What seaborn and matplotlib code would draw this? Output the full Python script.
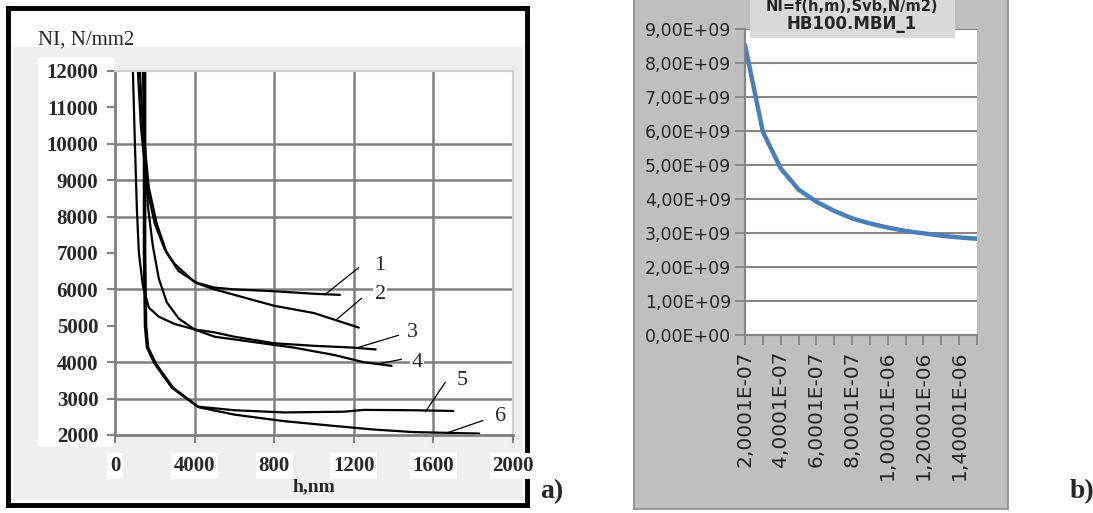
import seaborn as sns
import matplotlib.pyplot as plt
from matplotlib.patches import Rectangle

# ---- panel a) NI (N/mm2) against indentation depth h (nm), curves 1..6 ----
c1_h = [115, 130, 160, 200, 250, 300, 400, 500, 600, 800, 1000, 1130]
c1_ni = [12000, 10500, 8800, 7800, 7100, 6700, 6200, 6050, 6000, 5950, 5880, 5850]
c2_h = [125, 140, 170, 210, 260, 320, 420, 500, 600, 800, 1000, 1225]
c2_ni = [12000, 10500, 8800, 7800, 7000, 6500, 6150, 6000, 5850, 5550, 5350, 4950]
c3_h = [90, 100, 110, 120, 140, 170, 220, 300, 400, 500, 600, 800, 1000, 1200, 1310]
c3_ni = [12000, 10000, 8200, 7000, 6100, 5500, 5250, 5050, 4900, 4820, 4700, 4520, 4450, 4400, 4350]
c4_h = [140, 150, 165, 190, 220, 260, 320, 400, 500, 700, 900, 1100, 1250, 1390]
c4_ni = [12000, 10000, 8300, 7200, 6300, 5650, 5200, 4900, 4700, 4550, 4400, 4200, 4000, 3900]
c5_h = [145, 145, 150, 160, 200, 285, 415, 600, 850, 1150, 1250, 1500, 1700]
c5_ni = [12000, 7000, 5000, 4400, 3950, 3300, 2780, 2680, 2620, 2640, 2690, 2680, 2660]
c6_h = [152, 152, 157, 167, 207, 292, 422, 600, 850, 1100, 1300, 1500, 1830]
c6_ni = [12000, 7000, 5000, 4400, 3950, 3300, 2760, 2560, 2380, 2250, 2150, 2080, 2040]

a_yticks = list(range(2000, 12001, 1000))
a_grid_y = [3000, 4000, 6000, 8000, 9000, 10000]
a_xticks = [0, 400, 800, 1200, 1600, 2000]
a_xlabels = ["0", "4000", "800", "1200", "1600", "2000"]

curve_ids = ["1", "2", "3", "4", "5", "6"]
# leader lines (start on curve -> end near number) and number positions
lead_h0 = [1060, 1115, 1225, 1310, 1560, 1675]
lead_ni0 = [5880, 5180, 4410, 3940, 2640, 2070]
lead_h1 = [1225, 1240, 1425, 1440, 1660, 1850]
lead_ni1 = [6600, 5760, 4740, 4080, 3450, 2400]
num_h = [1300, 1305, 1465, 1490, 1715, 1910]
num_ni = [6650, 5850, 4820, 3980, 3500, 2520]

# ---- panel b) NI = f(h), Excel style ----
b_h = ["2,0001E-07", "3,0001E-07", "4,0001E-07", "5,0001E-07", "6,0001E-07",
       "7,0001E-07", "8,0001E-07", "9,0001E-07", "1,00001E-06", "1,10001E-06",
       "1,20001E-06", "1,30001E-06", "1,40001E-06", "1,50001E-06"]
b_ni = [8.53e9, 5.98e9, 4.90e9, 4.28e9, 3.92e9, 3.65e9, 3.43e9, 3.28e9,
        3.16e9, 3.06e9, 2.99e9, 2.92e9, 2.87e9, 2.83e9]
b_yticks = [i * 1e9 for i in range(10)]
b_ylabels = ["%d,00E+09" % i if i else "0,00E+00" for i in range(10)]
b_title = ["NI=f(h,m),Svb,N/m2)", "НВ100.МВИ_1"]

W, H = 1093, 513


def box(x0, y0, x1, y1):
    # pixel box (top-left origin) -> figure fraction rect
    return [x0 / W, 1 - y1 / H, (x1 - x0) / W, (y1 - y0) / H]


sns.set_theme(style="white")
plt.rcParams['font.family'] = ['Liberation Serif', 'DejaVu Serif']
sans = ['DejaVu Sans']

fig = plt.figure(figsize=(W / 100, H / 100), dpi=100)

# panel a frame
bg = fig.add_axes(box(8, 8, 527, 505))
bg.set_xlim(0, 519)
bg.set_ylim(497, 0)
bg.set_xticks([])
bg.set_yticks([])
bg.set_facecolor("white")
for s in bg.spines.values():
    s.set_color("black")
    s.set_linewidth(3.5)
bg.add_patch(Rectangle((5, 39), 510, 453, color="#efefef", lw=0))
bg.add_patch(Rectangle((30, 49), 76, 390, color="white", lw=0))
bg.text(30, 32, "NI, N/mm2", fontsize=15, ha="left", va="center")

ax = fig.add_axes(box(115, 71, 513, 435))
ax.set_facecolor("white")
curves = [(c1_h, c1_ni), (c2_h, c2_ni), (c3_h, c3_ni),
          (c4_h, c4_ni), (c5_h, c5_ni), (c6_h, c6_ni)]
for hx, ny in curves:
    sns.lineplot(x=hx, y=ny, ax=ax, color="black", lw=1.6, sort=False,
                 estimator=None)
for g in a_grid_y:
    ax.axhline(g, color="#808080", lw=1.8, zorder=0)
for g in a_xticks[1:-1]:
    ax.axvline(g, color="#808080", lw=1.8, zorder=0)
for i in range(6):
    ax.plot([lead_h0[i], lead_h1[i]], [lead_ni0[i], lead_ni1[i]],
            color="black", lw=0.9)
    ax.text(num_h[i], num_ni[i], curve_ids[i], fontsize=16, ha="left",
            va="center", bbox=dict(fc="white", ec="none", pad=1))
ax.set_xlim(0, 2000)
ax.set_ylim(2000, 12000)
ax.set_yticks(a_yticks)
ax.set_yticklabels([str(t) for t in a_yticks], fontweight="bold", fontsize=15)
ax.set_xticks(a_xticks)
ax.set_xticklabels(a_xlabels, fontweight="bold", fontsize=15)
for lbl in ax.get_xticklabels():
    lbl.set_bbox(dict(fc="white", ec="none", pad=2))
ax.tick_params(axis="both", length=6, width=1.5, color="#808080",
               left=True, bottom=True)
ax.tick_params(axis="x", pad=9)
ax.tick_params(axis="y", pad=6)
for k in ["top", "right"]:
    ax.spines[k].set_color("#d0d0d0")
    ax.spines[k].set_linewidth(1.5)
for k in ["left", "bottom"]:
    ax.spines[k].set_color("#808080")
    ax.spines[k].set_linewidth(2)
ax.set_xlabel("h,nm", fontweight="bold", fontsize=14, labelpad=2)
ax.set_ylabel("")

fig.text(540 / W, 1 - 492 / H, "a)", fontsize=20, fontweight="bold",
         ha="left", va="center")
fig.text(1070 / W, 1 - 492 / H, "b)", fontsize=20, fontweight="bold",
         ha="left", va="center")

# panel b
bgb = fig.add_axes(box(634, -10, 1008, 509))
bgb.set_facecolor("#bfbfbf")
bgb.set_xticks([])
bgb.set_yticks([])
for s in bgb.spines.values():
    s.set_color("#8c8c8c")
    s.set_linewidth(1.2)

bx = fig.add_axes(box(745, 29, 977, 335))
bx.set_facecolor("white")
pos = list(range(len(b_h)))
sns.lineplot(x=pos, y=b_ni, ax=bx, color="#4a7ebb", lw=3.2)
bx.set_xlim(0, len(b_h) - 1)
bx.set_ylim(0, 9e9)
bx.set_yticks(b_yticks)
bx.set_yticklabels(b_ylabels, family=sans, fontsize=12.5)
bx.set_xticks(pos)
bx.set_xticklabels([t if i % 2 == 0 else "" for i, t in enumerate(b_h)],
                   family=sans, fontsize=14.5, rotation=90)
bx.grid(axis="y", color="#868686", lw=1.5)
bx.tick_params(axis="both", length=7, width=1.3, color="#868686",
               left=True, bottom=True, pad=3)
bx.tick_params(axis="x", pad=4)
for k in ["top", "right"]:
    bx.spines[k].set_visible(False)
for k in ["left", "bottom"]:
    bx.spines[k].set_color("#868686")
    bx.spines[k].set_linewidth(1.5)

tb = fig.add_axes(box(750, -5, 955, 38))
tb.set_facecolor("#d9d9d9")
tb.set_xticks([])
tb.set_yticks([])
for s in tb.spines.values():
    s.set_visible(False)
fig.text(852 / W, 1 - 7 / H, b_title[0], ha="center", va="center",
         fontsize=10.5, fontweight="bold", family=sans)
fig.text(852 / W, 1 - 24 / H, b_title[1], ha="center", va="center",
         fontsize=12, fontweight="bold", family=sans)

fig.savefig("out.png", dpi=100)
